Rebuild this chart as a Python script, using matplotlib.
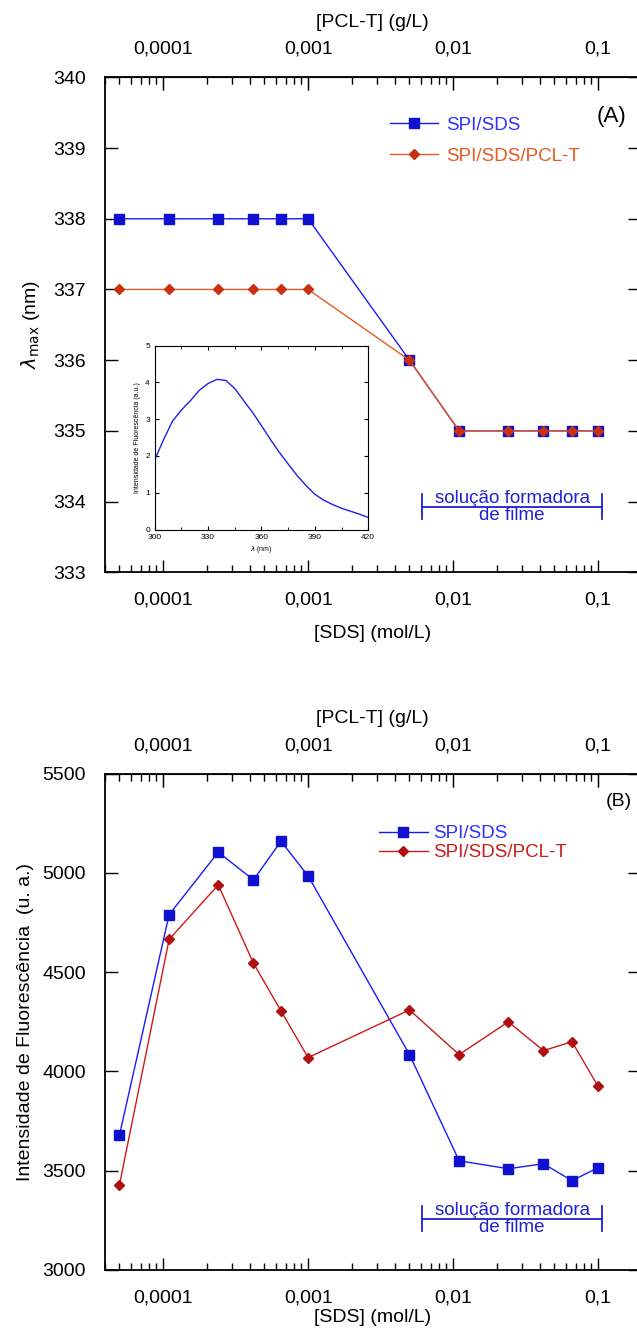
import matplotlib
matplotlib.use("Agg")
import matplotlib.pyplot as plt
from matplotlib.ticker import LogLocator, FixedLocator, NullFormatter, MultipleLocator

plt.rcParams["font.family"] = ["Liberation Sans", "DejaVu Sans"]

# SDS concentrations (mol/L)
sds = [5e-5, 1.1e-4, 2.4e-4, 4.2e-4, 6.5e-4, 1e-3, 5e-3, 0.011, 0.024, 0.042, 0.066, 0.1]

# panel A: lambda max (nm)
lam_spi = [338, 338, 338, 338, 338, 338, 336, 335, 335, 335, 335, 335]
lam_pcl = [337, 337, 337, 337, 337, 337, 336, 335, 335, 335, 335, 335]

# panel B: fluorescence intensity (u. a.)
int_spi = [3680, 4790, 5105, 4965, 5160, 4985, 4085, 3550, 3510, 3535, 3450, 3515]
int_pcl = [3430, 4665, 4940, 4545, 4305, 4070, 4310, 4085, 4250, 4105, 4150, 3925]

# inset spectrum
wl = [300, 305, 310, 315, 320, 325, 330, 335, 340, 345, 350, 355, 360,
      365, 370, 375, 380, 385, 390, 395, 400, 405, 410, 415, 420]
spec = [1.9, 2.45, 2.95, 3.25, 3.5, 3.78, 3.97, 4.08, 4.05, 3.83, 3.5, 3.18, 2.82,
        2.45, 2.1, 1.78, 1.47, 1.2, 0.96, 0.8, 0.68, 0.58, 0.5, 0.42, 0.33]

xticks = [1e-4, 1e-3, 1e-2, 1e-1]
xlabels = ["0,0001", "0,001", "0,01", "0,1"]
xlim = (3.98e-5, 0.195)

FS = 14

fig = plt.figure(figsize=(6.37, 13.34), dpi=100)
axA = fig.add_axes([0.165, 0.571, 0.84, 0.371])
axB = fig.add_axes([0.165, 0.048, 0.84, 0.372])


def style_axis(ax, xlabelpad):
    ax.set_xscale("log")
    ax.set_xlim(*xlim)
    ax.xaxis.set_major_locator(FixedLocator(xticks))
    ax.set_xticklabels(xlabels)
    ax.xaxis.set_minor_locator(LogLocator(base=10, subs=range(2, 10)))
    ax.xaxis.set_minor_formatter(NullFormatter())
    ax.tick_params(which="both", direction="in", top=True, right=True, labelsize=FS)
    ax.tick_params(which="major", length=9, width=1)
    ax.tick_params(which="minor", length=5, width=1)
    ax.tick_params(axis="x", pad=14)
    ax.tick_params(axis="y", pad=14)
    for s in ax.spines.values():
        s.set_linewidth(1.3)
    top = ax.secondary_xaxis("top")
    top.xaxis.set_major_locator(FixedLocator(xticks))
    top.set_xticklabels(xlabels)
    top.xaxis.set_minor_locator(LogLocator(base=10, subs=range(2, 10)))
    top.xaxis.set_minor_formatter(NullFormatter())
    top.tick_params(which="both", direction="in", labelsize=FS, pad=14)
    top.tick_params(which="major", length=9)
    top.tick_params(which="minor", length=5)
    top.set_xlabel("[PCL-T] (g/L)", fontsize=FS, labelpad=10)
    ax.set_xlabel("[SDS] (mol/L)", fontsize=FS, labelpad=xlabelpad)


def bracket(ax, y, dy):
    x0, x1 = 0.0061, 0.1067
    ax.plot([x0, x1], [y, y], color="#2020d0", lw=1.3)
    ax.plot([x0, x0], [y - dy, y + dy], color="#2020d0", lw=1.3)
    ax.plot([x1, x1], [y - dy, y + dy], color="#2020d0", lw=1.3)
    xm = (x0 * x1) ** 0.5
    ax.text(xm, y, "solução formadora", color="#2020d0", ha="center",
            va="bottom", fontsize=13.5)
    ax.text(xm, y, "de filme", color="#2020d0", ha="center",
            va="top", fontsize=13.5)


# ---- panel A
axA.plot(sds, lam_spi, "-s", color="#1a1aff", lw=1, ms=7, mfc="#1010d0",
         mec="#1010d0", label="SPI/SDS")
axA.plot(sds, lam_pcl, "-D", color="#e85a20", lw=1, ms=5, mfc="#c83010",
         mec="#c83010", label="SPI/SDS/PCL-T")
axA.set_ylim(333, 340)
axA.yaxis.set_major_locator(MultipleLocator(1))
style_axis(axA, 12)
axA.set_ylabel(r"$\lambda_{\mathrm{max}}$ (nm)", fontsize=FS, labelpad=8)
leg = axA.legend(loc="upper left", bbox_to_anchor=(0.50, 0.955), frameon=False,
                 fontsize=13.5, handlelength=2.6, handletextpad=0.4,
                 labelspacing=0.75)
for t, c in zip(leg.get_texts(), ["#3030ff", "#e85a20"]):
    t.set_color(c)
axA.text(0.975, 0.92, "(A)", transform=axA.transAxes, fontsize=16,
         ha="right", va="center")
bracket(axA, 333.93, 0.18)

# inset
axI = fig.add_axes([0.243, 0.603, 0.335, 0.138])
axI.plot(wl, spec, color="#2020e0", lw=1)
axI.set_xlim(300, 420)
axI.set_ylim(0, 5)
axI.xaxis.set_major_locator(MultipleLocator(30))
axI.xaxis.set_minor_locator(MultipleLocator(15))
axI.yaxis.set_major_locator(MultipleLocator(1))
axI.tick_params(which="both", direction="in", top=True, right=True, labelsize=6)
axI.tick_params(which="major", length=3)
axI.tick_params(which="minor", length=2)
axI.set_xlabel(r"$\lambda$ (nm)", fontsize=5, labelpad=2)
axI.set_ylabel("Intensidade de Fluorescência (a.u.)", fontsize=5, labelpad=3)

# ---- panel B
axB.plot(sds, int_spi, "-s", color="#1a1aff", lw=1, ms=7, mfc="#1010d0",
         mec="#1010d0", label="SPI/SDS")
axB.plot(sds, int_pcl, "-D", color="#cc1a1a", lw=1, ms=5, mfc="#b01010",
         mec="#b01010", label="SPI/SDS/PCL-T")
axB.set_ylim(3000, 5500)
axB.yaxis.set_major_locator(MultipleLocator(500))
style_axis(axB, 2)
axB.set_ylabel("Intensidade de Fluorescência  (u. a.)", fontsize=FS, labelpad=6)
leg = axB.legend(loc="upper left", bbox_to_anchor=(0.48, 0.93), frameon=False,
                 fontsize=13.5, handlelength=2.6, handletextpad=0.3,
                 labelspacing=0.1)
for t, c in zip(leg.get_texts(), ["#3030ff", "#cc1a1a"]):
    t.set_color(c)
axB.text(0.985, 0.945, "(B)", transform=axB.transAxes, fontsize=14,
         ha="right", va="center")
bracket(axB, 3257, 63)

fig.savefig("out.png", dpi=100)
